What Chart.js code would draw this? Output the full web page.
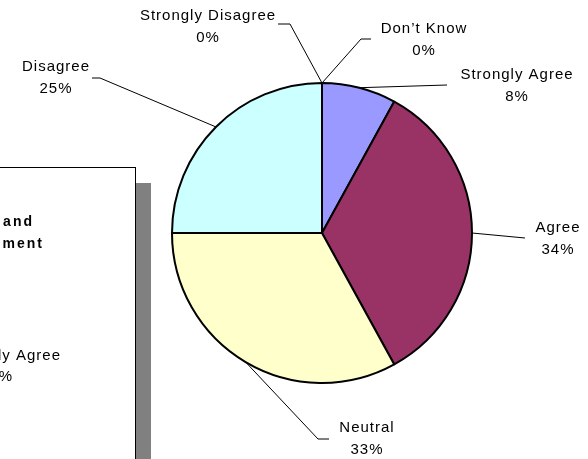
<!DOCTYPE html>
<html>
<head>
<meta charset="utf-8">
<script src="https://cdn.jsdelivr.net/npm/chart.js@4/dist/chart.umd.min.js"></script>
<style>
  html, body { margin: 0; padding: 0; background: #fff; }
  #wrap { width: 588px; height: 459px; }
</style>
</head>
<body>
<div id="wrap"><canvas id="opinionPie" width="588" height="459"></canvas></div>
<script>
// survey answers, clockwise from the top
const categories = ['Don’t Know', 'Strongly Agree', 'Agree', 'Neutral', 'Disagree', 'Strongly Disagree'];
const percentages = [0, 8, 34, 33, 25, 0];

const sliceColors = ['#9999FF', '#9999FF', '#993366', '#FFFFCC', '#CCFFFF', '#CCFFFF'];

// where each label sits and how its leader line bends (elbow, then end)
const labelLayout = [
  { tx: 424, ty: 33, line: [[361, 39], [371, 39]] },
  { tx: 517, ty: 79, line: [[447, 85]] },
  { tx: 558, ty: 232, line: [[525, 238]] },
  { tx: 367, ty: 432, line: [[318, 439], [329, 439]] },
  { tx: 56, ty: 71, line: [[100, 78], [92, 78]] },
  { tx: 208, ty: 20, line: [[290, 24], [278, 24]] }
];

document.addEventListener('DOMContentLoaded', function () {
  const ctx = document.getElementById('opinionPie').getContext('2d');

  // slice labels with leader lines
  const calloutPlugin = {
    id: 'callouts',
    afterDraw(chart) {
      const c = chart.ctx;
      const arcs = chart.getDatasetMeta(0).data;
      c.save();
      arcs.forEach(function (arc, i) {
        const p = arc.getProps(['x', 'y', 'startAngle', 'endAngle', 'outerRadius'], true);
        const mid = (p.startAngle + p.endAngle) / 2;
        const ax = p.x + Math.cos(mid) * p.outerRadius;
        const ay = p.y + Math.sin(mid) * p.outerRadius;
        const lay = labelLayout[i];

        c.strokeStyle = '#000';
        c.lineWidth = 1;
        c.beginPath();
        c.moveTo(ax, ay);
        lay.line.forEach(function (pt) { c.lineTo(pt[0], pt[1]); });
        c.stroke();

        c.fillStyle = '#000';
        c.font = '15px "Liberation Sans", Arial, sans-serif';
        c.letterSpacing = '1px';
        c.textAlign = 'center';
        c.textBaseline = 'alphabetic';
        c.fillText(categories[i], lay.tx, lay.ty);
        c.fillText(percentages[i] + '%', lay.tx, lay.ty + 22);
      });
      c.restore();
    }
  };

  // neighbouring chart panel sticking in from the left
  const sidePanel = {
    id: 'sidePanel',
    afterDraw(chart) {
      const c = chart.ctx;
      c.save();
      c.fillStyle = '#808080';
      c.fillRect(136, 183, 15, 290);
      c.fillStyle = '#fff';
      c.fillRect(-2, 167, 137, 300);
      c.strokeStyle = '#000';
      c.lineWidth = 1;
      c.strokeRect(-2, 167.5, 137.5, 300);

      c.fillStyle = '#000';
      c.textAlign = 'right';
      c.textBaseline = 'alphabetic';
      c.font = 'bold 14px "Liberation Sans", Arial, sans-serif';
      c.letterSpacing = '2px';
      c.fillText('Satisfaction and', 34, 226);
      c.fillText('Management', 44, 248);
      c.font = '15px "Liberation Sans", Arial, sans-serif';
      c.letterSpacing = '1px';
      c.fillText('Strongly Agree', 61, 360);
      c.fillText('%', 13, 381);
      c.restore();
    }
  };

  new Chart(ctx, {
    type: 'pie',
    data: {
      labels: categories,
      datasets: [{
        data: percentages,
        backgroundColor: sliceColors,
        borderColor: '#000',
        borderWidth: 2,
        hoverOffset: 0,
        offset: 0
      }]
    },
    options: {
      responsive: false,
      animation: false,
      radius: 150,
      layout: { padding: { left: 172, right: 116, top: 83, bottom: 76 } },
      plugins: {
        legend: { display: false },
        tooltip: { enabled: false }
      }
    },
    plugins: [calloutPlugin, sidePanel]
  });
});
</script>
</body>
</html>
